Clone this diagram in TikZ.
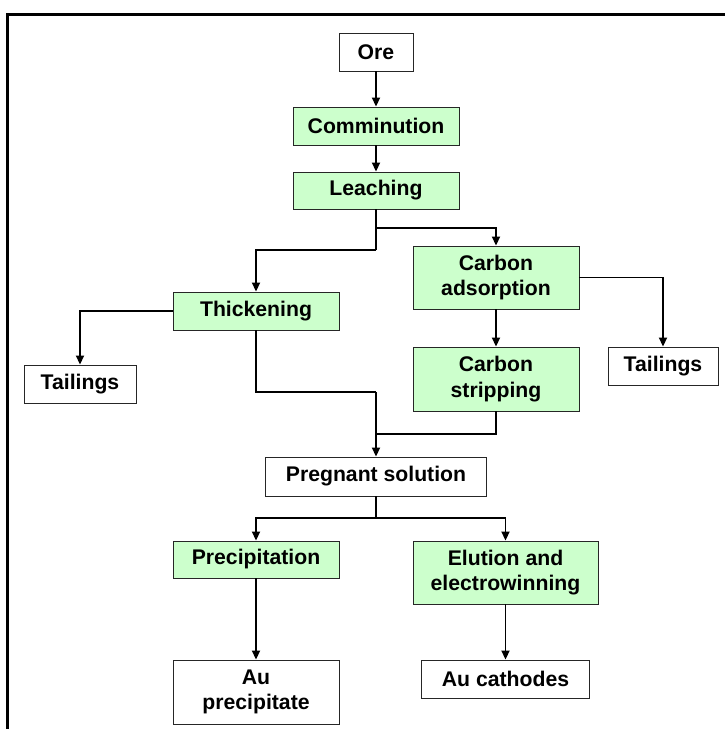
\documentclass[tikz,border=0pt]{standalone}
\usepackage{fontspec}
\setmainfont{Liberation Sans}
\usetikzlibrary{arrows.meta}
\definecolor{boxgreen}{HTML}{CCFFCC}
\begin{document}
\begin{tikzpicture}[x=1pt,y=-1pt,
  every node/.style={font=\fontsize{21.2}{25.5}\selectfont\bfseries},
  basebox/.style={draw=black!85,line width=0.9pt,inner sep=0pt,align=center,fill=white},
  greenbox/.style={basebox,fill=boxgreen},
  arr/.style={line width=1.8pt,-{Triangle[length=9pt,width=8pt]}},
  conn/.style={line width=1.8pt}]
\useasboundingbox (0,0) rectangle (724,729);
\draw[line width=3pt,line join=miter] (7.3,740) -- (7.3,14) -- (740,14);

\node[basebox,minimum width=74pt,minimum height=38pt] (ore) at (376,52) {Ore};
\node[greenbox,minimum width=166pt,minimum height=38pt] (comm) at (376,126) {Comminution};
\node[greenbox,minimum width=166pt,minimum height=37pt] (leach) at (376,190.5) {Leaching};
\node[greenbox,minimum width=166pt,minimum height=63pt] (cads) at (496,277.5) {Carbon\\adsorption};
\node[greenbox,minimum width=166pt,minimum height=38pt] (thick) at (256,311) {Thickening};
\node[basebox,minimum width=112pt,minimum height=38pt] (tailL) at (80,384) {Tailings};
\node[greenbox,minimum width=166pt,minimum height=64pt] (cstrip) at (496,379) {Carbon\\stripping};
\node[basebox,minimum width=110pt,minimum height=38pt] (tailR) at (663,366) {Tailings};
\node[basebox,minimum width=221pt,minimum height=39pt] (preg) at (376,476.5) {Pregnant solution};
\node[greenbox,minimum width=166pt,minimum height=37pt] (precip) at (256,559.5) {Precipitation};
\node[greenbox,minimum width=185pt,minimum height=63pt] (elut) at (505.5,572.5) {Elution and\\electrowinning};
\node[basebox,minimum width=166pt,minimum height=64pt] (auprec) at (256,692) {Au\\precipitate};
\node[basebox,minimum width=168pt,minimum height=38pt] (aucath) at (505.5,679) {Au cathodes};

\coordinate (j1) at (376,228);
\coordinate (j2) at (376,250);
\coordinate (j3) at (376,392);
\coordinate (j4) at (376,434);
\coordinate (j5) at (376,518);

\draw[arr] (ore) -- (comm);
\draw[arr] (comm) -- (leach);
\draw[conn] (leach.south) -- (j2);
\draw[arr] (j1) -| (cads.north);
\draw[arr] (j2) -| (thick.north);
\draw[arr] (thick.west) -| (tailL.north);
\draw[arr] (cads.east) -| (tailR.north);
\draw[arr] (cads) -- (cstrip);
\draw[conn] (thick.south) |- (j3);
\draw[conn] (cstrip.south) |- (j4);
\draw[arr] (j3) -- (preg.north);
\draw[conn] (preg.south) -- (j5);
\draw[arr] (j5) -| (precip.north);
\draw[arr] (j5) -| (elut.north);
\draw[arr] (precip) -- (auprec);
\draw[arr] (elut) -- (aucath);
\end{tikzpicture}
\end{document}
